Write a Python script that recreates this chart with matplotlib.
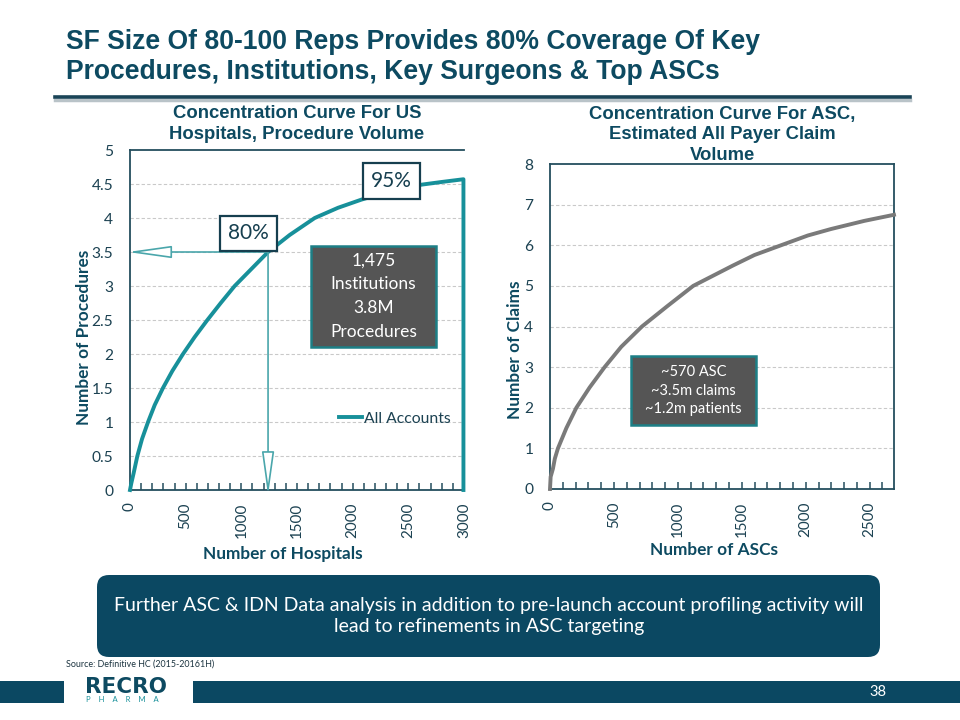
import matplotlib
matplotlib.use('Agg')
import matplotlib.pyplot as plt
import matplotlib.patches as mpatches
from matplotlib.transforms import IdentityTransform
from matplotlib.lines import Line2D
from matplotlib.ticker import MultipleLocator

# ---------------- data ----------------
hosp_x = [0, 12, 33, 66, 108, 162, 222, 296, 380, 476, 581, 695, 815, 940, 1090, 1240, 1434,
          1659, 1868, 2078, 2350, 2617, 2800, 2995, 2995]
hosp_y = [0, 0.1, 0.25, 0.5, 0.75, 1.0, 1.25, 1.5, 1.75, 2.0, 2.25, 2.5, 2.75, 3.0, 3.25, 3.5, 3.75,
          4.0, 4.15, 4.27, 4.4, 4.49, 4.53, 4.57, 0]
hosp_yticks = [0, 0.5, 1, 1.5, 2, 2.5, 3, 3.5, 4, 4.5, 5]
hosp_xticks = [0, 500, 1000, 1500, 2000, 2500, 3000]

asc_x = [0, 5, 23, 38, 62, 128, 206, 310, 427, 557, 719, 917, 1120, 1430, 1599, 1807, 2016, 2198,
         2458, 2690]
asc_y = [0, 0.3, 0.5, 0.75, 1.0, 1.5, 2.0, 2.5, 3.0, 3.5, 4.0, 4.5, 5.0, 5.5, 5.76, 6.0, 6.24, 6.4,
         6.6, 6.75]
asc_yticks = [0, 1, 2, 3, 4, 5, 6, 7, 8]
asc_xticks = [0, 500, 1000, 1500, 2000, 2500]

cut_x, cut_y = 1240, 3.5   # 80% coverage point

title = "SF Size Of 80-100 Reps Provides 80% Coverage Of Key\nProcedures, Institutions, Key Surgeons & Top ASCs"
left_title = "Concentration Curve For US\nHospitals, Procedure Volume"
right_title = "Concentration Curve For ASC,\nEstimated All Payer Claim\nVolume"
left_box = "1,475\nInstitutions\n3.8M\nProcedures"
right_box = "~570 ASC\n~3.5m claims\n~1.2m patients"
bottom_msg = "Further ASC & IDN Data analysis in addition to pre-launch account profiling activity will\nlead to refinements in ASC targeting"
source = "Source: Definitive HC (2015-20161H)"

# ---------------- style ----------------
NAVY = '#0d4a61'
DARK = '#1c4252'
TEAL = '#17909a'
ARROW = '#4aa6ab'
GREY_LINE = '#7a7a7a'
BOXGREY = '#555555'
CAL = ['Lato', 'DejaVu Sans']
ARIAL = ['Liberation Sans', 'DejaVu Sans']

W, H = 960, 720
fig = plt.figure(figsize=(9.6, 7.2), dpi=100)
fig.patch.set_facecolor('white')

def fx(x):
    return x / W

def fy(y):
    return 1 - y / H

def axes_px(x0, x1, ytop, ybot):
    return fig.add_axes([fx(x0), fy(ybot), (x1 - x0) / W, (ybot - ytop) / H])

# ---------------- header ----------------
fig.text(fx(66), fy(57), title, fontsize=19.1, fontweight='bold', color=NAVY,
         family=ARIAL, ha='left', va='center', linespacing=1.2)
fig.add_artist(Line2D([55, 910], [H - 99.5, H - 99.5], transform=IdentityTransform(), color='#b9c3c8', lw=2.5))
fig.add_artist(Line2D([55, 910], [H - 96.5, H - 96.5], transform=IdentityTransform(), color='#1a4457', lw=2.6))

# ---------------- left chart ----------------
axL = axes_px(130, 464, 150, 490)
axL.plot(hosp_x, hosp_y, color=TEAL, lw=2.8, clip_on=False, zorder=3, solid_joinstyle='round',
         label='All Accounts')
axL.set_xlim(0, 3000)
axL.set_ylim(0, 5)
axL.set_yticks(hosp_yticks)
axL.set_yticklabels(['0', '0.5', '1', '1.5', '2', '2.5', '3', '3.5', '4', '4.5', '5'])
axL.set_xticks(hosp_xticks)
axL.xaxis.set_minor_locator(MultipleLocator(100))
for y in hosp_yticks[1:-1]:
    axL.axhline(y, color='#c9c9c9', lw=0.8, ls=(0, (3, 2)), zorder=1)

# ---------------- right chart ----------------
axR = axes_px(550, 894, 164, 489)
axR.plot(asc_x, asc_y, color=GREY_LINE, lw=2.8, clip_on=False, zorder=3, solid_joinstyle='round')
axR.set_xlim(0, 2690)
axR.set_ylim(0, 8)
axR.set_yticks(asc_yticks)
axR.set_xticks(asc_xticks)
axR.xaxis.set_minor_locator(MultipleLocator(100))
for y in asc_yticks[1:-1]:
    axR.axhline(y, color='#c9c9c9', lw=0.8, ls=(0, (3, 2)), zorder=1)

for ax in (axL, axR):
    ax.set_facecolor('white')
    for s in ax.spines.values():
        s.set_color('#244e5e')
        s.set_linewidth(1.3)
    ax.tick_params(axis='y', length=0, pad=12, labelsize=11.2, labelcolor=DARK)
    ax.tick_params(axis='x', which='both', direction='in', length=5, width=1.1, color='#244e5e',
                   pad=9, labelsize=10.9, labelcolor=DARK, labelrotation=90)
    for lab in ax.get_xticklabels() + ax.get_yticklabels():
        lab.set_family(CAL)
axL.spines['right'].set_visible(False)

# axis titles
axL.set_title(left_title, fontsize=13.3, fontweight='bold', color=NAVY, family=ARIAL, pad=8, linespacing=1.27)
axL.set_xlabel('Number of Hospitals', fontsize=12.4, fontweight='bold', color=NAVY, family=CAL)
axL.set_ylabel('Number of Procedures', fontsize=12.4, fontweight='bold', color=NAVY, family=CAL)
axL.xaxis.set_label_coords((283 - 130) / 334, (490 - 546) / 340)
axL.yaxis.set_label_coords((92 - 130) / 334, (490 - 337) / 340)

axR.set_title(right_title, fontsize=13.3, fontweight='bold', color=NAVY, family=ARIAL, pad=-7.5, linespacing=1.27)
axR.set_xlabel('Number of ASCs', fontsize=12.4, fontweight='bold', color=NAVY, family=CAL)
axR.set_ylabel('Number of Claims', fontsize=12.4, fontweight='bold', color=NAVY, family=CAL)
axR.xaxis.set_label_coords((714 - 550) / 344, (489 - 542) / 325)
axR.yaxis.set_label_coords((523 - 550) / 344, (489 - 350) / 325)

# legend
leg = axL.legend(handles=[Line2D([], [], color=TEAL, lw=2.8)], labels=['All Accounts'],
                 loc='center left', bbox_to_anchor=(0.625, 0.21), frameon=False,
                 handlelength=1.5, handletextpad=0.1, borderpad=0, borderaxespad=0,
                 prop={'family': CAL, 'size': 11.3})
for t in leg.get_texts():
    t.set_color(DARK)

# arrows from 80% point
for tip in [(-20, cut_y), (cut_x, -0.08)]:
    axL.annotate('', xy=tip, xytext=(cut_x, cut_y), annotation_clip=False,
                 arrowprops=dict(arrowstyle='-|>,head_length=2.7,head_width=0.38', lw=1.2,
                                 ec=ARROW, fc='white', shrinkA=0, shrinkB=0), zorder=4)

def box(ax, x0, x1, y0, y1, text, fc, ec, tc, fs, ls=1.2, lw=1.6):
    r = mpatches.Rectangle((x0, y0), x1 - x0, y1 - y0, transform=ax.transAxes,
                           fc=fc, ec=ec, lw=lw, zorder=5, clip_on=False)
    ax.add_patch(r)
    ax.text((x0 + x1) / 2, (y0 + y1) / 2, text, transform=ax.transAxes, ha='center', va='center',
            color=tc, fontsize=fs, family=CAL, linespacing=ls, zorder=6)

box(axL, 0.269, 0.440, 0.703, 0.806, '80%', 'white', '#163f4f', '#163f4f', 15)
box(axL, 0.698, 0.868, 0.856, 0.962, '95%', 'white', '#163f4f', '#163f4f', 15)
box(axL, 0.542, 0.916, 0.421, 0.718, left_box, BOXGREY, '#1d7f86', 'white', 12.5, ls=1.6, lw=1.8)
box(axR, 0.235, 0.599, 0.197, 0.409, right_box, BOXGREY, '#1d7f86', 'white', 10.5, ls=1.42, lw=1.8)

# ---------------- bottom message ----------------
msg = mpatches.FancyBboxPatch((97, H - 657), 783, 82, boxstyle='round,pad=0,rounding_size=12',
                              transform=IdentityTransform(), fc='#0b4862', ec='none')
fig.add_artist(msg)
fig.text(fx(489), fy(616), bottom_msg, ha='center', va='center', color='white', fontsize=14,
         family=CAL, linespacing=1.35)
fig.text(fx(66), fy(664), source, ha='left', va='center', color='#1c3440', fontsize=6.4, family=CAL)

# ---------------- footer ----------------
fig.add_artist(mpatches.Rectangle((0, H - 703), 64, 22, transform=IdentityTransform(), fc='#0b4862', ec='none'))
fig.add_artist(mpatches.Rectangle((193, H - 703), 767, 22, transform=IdentityTransform(), fc='#0b4862', ec='none'))
fig.text(fx(85), fy(687), 'RECRO', ha='left', va='center', color='#0d4a61', fontsize=15.5,
         fontweight='heavy', family=['DejaVu Sans'])
fig.text(fx(86), fy(700), 'P    H    A    R    M    A', ha='left', va='center', color=TEAL, fontsize=5.5,
         family=CAL)
fig.text(fx(878), fy(692), '38', ha='center', va='center', color='white', fontsize=10.5, family=CAL)

fig.savefig('out.png', dpi=100, facecolor='white')
